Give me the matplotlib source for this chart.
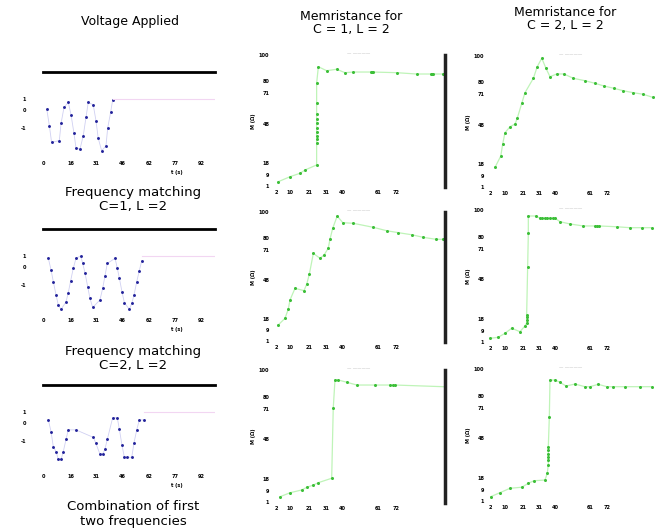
"""Voltage applied vs. memristance response, 3x3 grid of small panels."""
import numpy as np
import matplotlib
matplotlib.use("Agg")
import matplotlib.pyplot as plt

W, H = 655, 531

# ---- voltage applied (time in %, voltage normalised) ----
volt_t1 = [2.2, 3.7, 5.0, 9.5, 10.5, 12.2, 14.7, 16.3, 18.0, 19.2, 21.5, 23.4,
           25.0, 26.3, 29.2, 30.8, 32.1, 34.1, 36.6, 37.6, 39.4, 40.5]
volt_v1 = [0.62, 0.0, -0.62, -0.55, 0.09, 0.68, 0.87, 0.41, -0.28, -0.83, -0.87, -0.37,
           0.31, 0.87, 0.78, 0.19, -0.46, -0.93, -0.75, -0.09, 0.53, 0.96]

volt_t2 = [3.1, 4.7, 6.0, 7.6, 8.9, 10.5, 13.4, 14.7, 16.1, 17.6, 19.2, 21.9,
           23.1, 24.4, 26.0, 27.3, 28.9, 33.1, 34.7, 36.0, 37.4, 41.9, 43.2, 44.4,
           45.9, 47.3, 50.2, 51.6, 52.9, 54.5, 56.0, 57.4]
volt_v2 = [0.91, 0.47, 0.04, -0.46, -0.83, -0.99, -0.71, -0.37, 0.08, 0.54, 0.91, 1.0,
           0.72, 0.37, -0.15, -0.58, -0.92, -0.64, -0.21, 0.25, 0.72, 0.91, 0.54, 0.17,
           -0.33, -0.74, -0.99, -0.77, -0.46, 0.04, 0.45, 0.82]

volt_t3 = [3.1, 4.7, 6.0, 7.6, 8.9, 10.5, 11.8, 13.4, 14.7, 19.2, 29.3, 30.6,
           33.1, 34.7, 36.0, 37.4, 40.5, 43.2, 44.4, 45.9, 47.3, 48.7, 51.6, 52.9,
           54.5, 56.0, 58.7]
volt_v3 = [0.70, 0.26, -0.30, -0.48, -0.77, -0.77, -0.48, -0.02, 0.33, 0.33, 0.05, -0.15,
           -0.57, -0.57, -0.39, -0.02, 0.78, 0.78, 0.35, -0.23, -0.69, -0.69, -0.69, -0.15,
           0.33, 0.70, 0.70]

hold_start = [40.5, 57.4, 58.7]
hold_level = 1.0
volt_xticks = [0, 16, 31, 46, 62, 77, 92]
volt_yticks = [1.0, 0.6, -0.1]

# ---- memristance (time %, memristance %) ----
mem_c1_x = [[3.6, 10.4, 16.2, 19.1, 25.8, 25.8, 25.8, 25.8, 25.8, 25.8, 25.8, 25.8,
             25.8, 25.8, 25.8, 26.8, 31.6, 37.4, 42.2, 47.0, 57.0, 57.6, 58.2, 72.1,
             83.6, 91.8, 92.3, 92.8, 99.0],
            [3.6, 7.5, 9.4, 10.4, 13.3, 18.5, 20.1, 21.6, 23.9, 27.7, 30.1, 32.5,
             33.5, 35.1, 37.7, 40.9, 47.0, 58.6, 66.3, 73.0, 80.8, 87.5, 94.8, 99.0],
            [4.6, 10.4, 17.2, 20.1, 23.9, 26.8, 34.5, 35.4, 36.4, 38.3, 43.2, 49.0,
             59.5, 68.2, 70.0, 71.1, 100.0]]
mem_c1_y = [[4.0, 7.8, 10.4, 12.9, 16.7, 33.1, 36.0, 39.0, 42.0, 45.0, 48.3, 51.5,
             55.0, 63.4, 78.6, 91.1, 88.1, 89.2, 86.6, 87.1, 87.1, 87.1, 87.1, 86.6,
             85.6, 85.6, 85.6, 85.6, 85.6],
            [13.1, 18.2, 25.2, 32.3, 41.3, 39.5, 44.6, 52.3, 68.2, 64.4, 66.9, 72.1,
             79.0, 87.5, 96.9, 91.8, 91.3, 88.2, 85.6, 84.1, 82.5, 80.5, 79.0, 79.0],
            [4.7, 7.7, 9.8, 11.8, 13.5, 15.3, 18.6, 71.2, 92.5, 92.5, 90.8, 88.7,
             88.7, 88.7, 88.7, 88.7, 87.4]]

mem_c2_x = [[4.8, 8.2, 9.3, 10.7, 13.7, 16.7, 18.0, 20.7, 22.6, 27.6, 29.9, 32.6,
             35.1, 37.5, 41.5, 45.8, 51.4, 58.3, 64.3, 69.6, 75.6, 81.1, 87.1, 93.0,
             98.6],
            [1.8, 6.7, 10.7, 14.7, 19.6, 22.6, 23.6, 23.6, 23.6, 23.6, 24.2, 24.6,
             24.6, 29.2, 31.5, 33.0, 34.5, 36.0, 37.5, 39.0, 40.5, 43.5, 49.4, 57.3,
             64.3, 65.5, 66.8, 77.2, 85.1, 92.1, 98.0],
            [2.2, 7.7, 13.7, 20.7, 24.6, 28.0, 34.5, 35.9, 36.5, 36.5, 36.5, 36.5,
             36.5, 36.5, 37.1, 37.5, 40.5, 43.5, 47.0, 52.4, 58.3, 61.3, 66.2, 71.3,
             75.2, 82.1, 91.1, 98.0]]
mem_c2_y = [[15.7, 24.2, 33.1, 41.9, 46.4, 48.5, 52.8, 64.2, 72.2, 83.1, 91.9, 98.3,
             90.7, 84.3, 86.4, 86.4, 83.1, 81.3, 79.3, 77.3, 75.5, 73.7, 72.2, 71.0,
             68.7],
            [3.5, 4.3, 7.3, 11.1, 8.5, 12.8, 15.0, 17.3, 19.2, 21.1, 57.4, 82.5,
             95.5, 95.5, 93.8, 93.8, 93.8, 93.8, 93.8, 93.8, 93.8, 91.2, 89.5, 88.0,
             88.0, 88.0, 88.0, 87.4, 86.7, 86.7, 86.7],
            [4.0, 7.0, 10.3, 11.1, 14.1, 16.0, 16.5, 21.6, 28.0, 31.6, 33.8, 36.0,
             38.8, 41.6, 64.1, 91.7, 91.7, 90.0, 87.2, 88.7, 86.7, 86.7, 88.5, 86.7,
             86.7, 86.7, 86.7, 86.7]]

mem_yticks = [1, 9, 18, 48, 71, 80, 100]
mem_xticks = [2.3, 10.4, 21.4, 31.2, 40.5, 61.3, 71.7]

col_titles = ["Voltage Applied", "Memristance for\nC = 1, L = 2", "Memristance for\nC = 2, L = 2"]
row_labels = ["Frequency matching\nC=1, L =2", "Frequency matching\nC=2, L =2",
              "Combination of first\ntwo frequencies"]


def rect(l, t, r, b):
    return [l / W, 1 - b / H, (r - l) / W, (b - t) / H]


def tiny_ticks(ax, xt, yt):
    ax.set_xticks(xt)
    ax.set_yticks(yt)
    ax.set_xticklabels([f"{v:.0f}" for v in xt], fontweight="bold")
    ax.set_yticklabels([f"{v:.0f}" for v in yt], fontweight="bold")
    ax.tick_params(length=0, labelsize=3.6, pad=2, labelcolor="black")


fig = plt.figure(figsize=(W / 100, H / 100), dpi=100, facecolor="white")

# voltage column
volt_rows = [(72, 158), (229, 315), (385, 471)]
volts = [(volt_t1, volt_v1), (volt_t2, volt_v2), (volt_t3, volt_v3)]
for i, ((t0, b0), (t, v)) in enumerate(zip(volt_rows, volts)):
    ax = fig.add_axes(rect(43, t0, 215, b0))
    ax.plot(t, v, color="#d0d0f2", lw=0.6)
    ax.plot(t, v, ls="", marker="o", ms=2.1, color="#22229a", mec="none")
    ax.plot([hold_start[i], 100], [hold_level, hold_level], color="#f2d6f2", lw=0.8)
    ax.set_xlim(0, 100)
    ax.set_ylim(-1.2, 2.0)
    for s in ["left", "right", "bottom"]:
        ax.spines[s].set_visible(False)
    ax.spines["top"].set_linewidth(2)
    tiny_ticks(ax, volt_xticks, volt_yticks)
    ax.set_yticklabels(["1", "0", "-1"], fontweight="bold")
    ax.yaxis.set_tick_params(pad=12)
    ax.set_xlabel("t (s)", fontsize=3.6, fontweight="bold", labelpad=3, x=0.78)

# memristance columns
mem_rows_mid = [(55, 187), (212, 342), (370, 503)]
mem_rows_right = [(56, 188), (210, 343), (369, 502)]
for col, (left, right, rows, xs, ys) in enumerate([
        (272, 445, mem_rows_mid, mem_c1_x, mem_c1_y),
        (487, 655, mem_rows_right, mem_c2_x, mem_c2_y)]):
    for r in range(3):
        t0, b0 = rows[r]
        ax = fig.add_axes(rect(left, t0, right, b0))
        ax.plot(xs[r], ys[r], color="#bff4b8", lw=0.9)
        ax.plot(xs[r], ys[r], ls="", marker="o", ms=2.2, color="#3cbf38", mec="none")
        ax.set_xlim(0, 100)
        ax.set_ylim(0, 100)
        for s in ["left", "top", "bottom", "right"]:
            ax.spines[s].set_visible(False)
        if col == 0:
            ax.spines["right"].set_visible(True)
            ax.spines["right"].set_linewidth(2.5)
            ax.spines["right"].set_color("#222222")
        tiny_ticks(ax, mem_xticks, mem_yticks)
        ax.set_ylabel("M (\u03a9)", fontsize=3.6, fontweight="bold", labelpad=2)
        ax.set_title("\u2014 \u2014\u2014\u2014\u2014", fontsize=3.2, color="#999999", pad=1)

# column titles and row captions
fig.text(130 / W, 1 - 22 / H, col_titles[0], ha="center", va="center", fontsize=9)
fig.text(351 / W, 1 - 23 / H, col_titles[1], ha="center", va="center", fontsize=9,
         linespacing=1.1)
fig.text(565 / W, 1 - 19 / H, col_titles[2], ha="center", va="center", fontsize=9,
         linespacing=1.1)
for y, lab in zip([200, 358, 514], row_labels):
    fig.text(133 / W, 1 - y / H, lab, ha="center", va="center", fontsize=9.5,
             linespacing=1.1)

fig.savefig("out.png", dpi=100, facecolor="white")
